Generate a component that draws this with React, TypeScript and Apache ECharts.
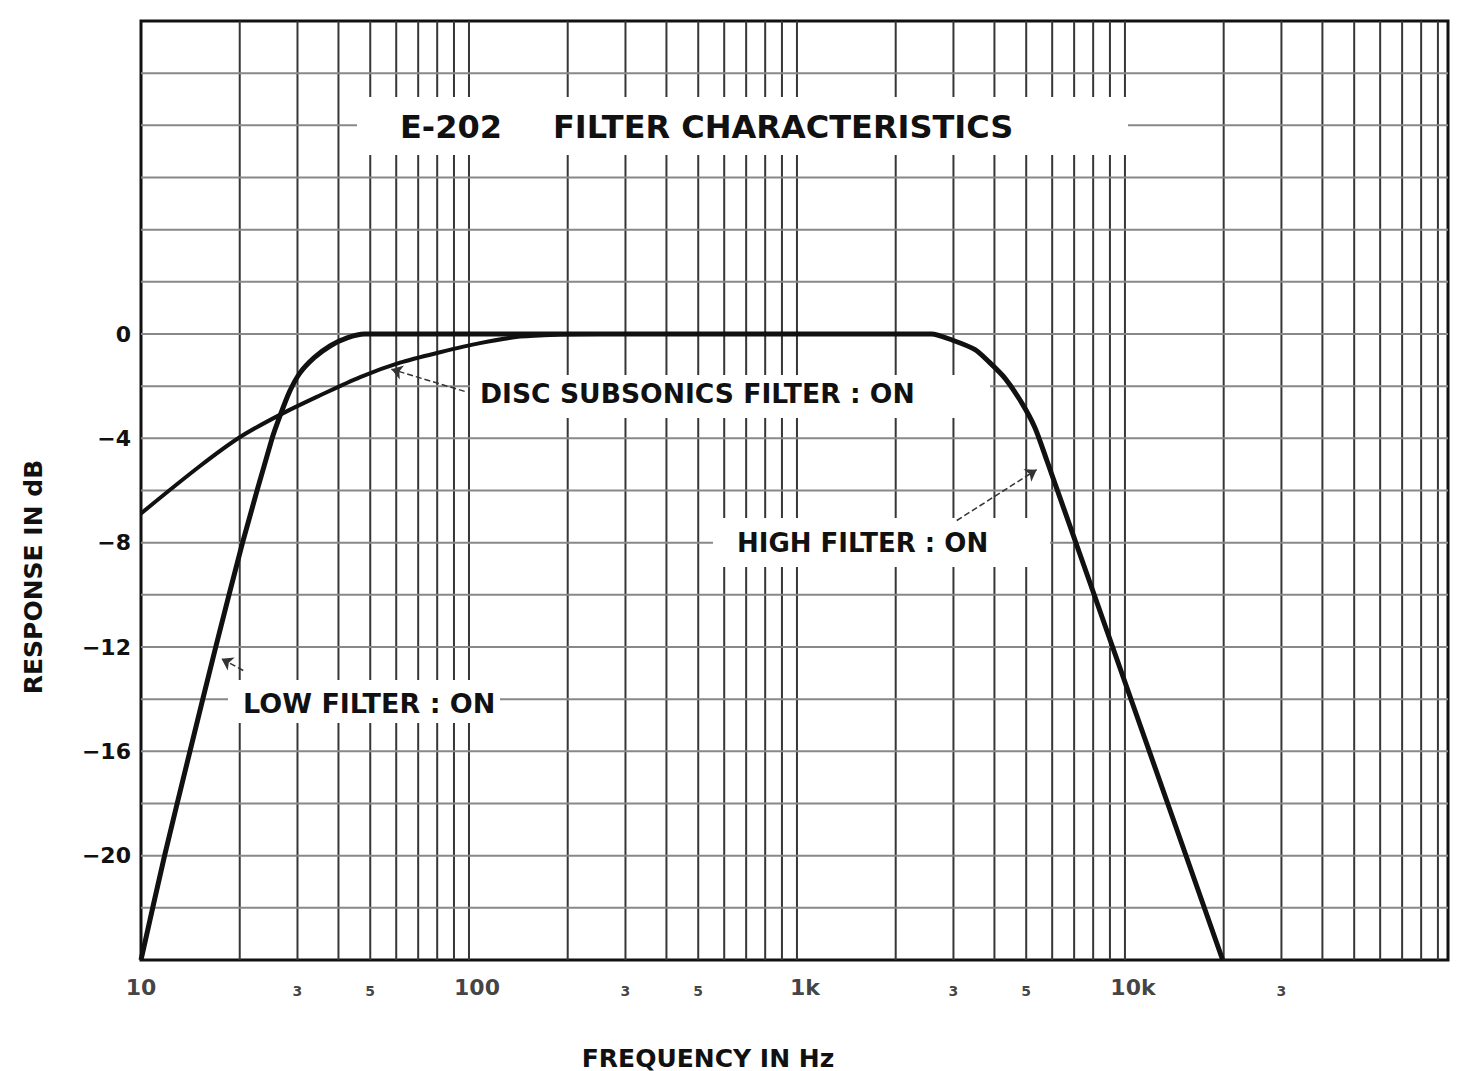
import { useEffect, useRef } from "react";
import * as echarts from "echarts";

// ---- data ----
const lowFilterFreq = [10, 11.8, 14.1, 16.9, 20.4, 25.1, 26.6, 28.4, 30.5, 33.8, 37.8, 42.5, 48, 100, 1000];
const lowFilterDb = [-24, -20, -16, -12, -8, -4, -3.1, -2.2, -1.5, -0.9, -0.45, -0.15, 0, 0, 0];

const discFreq = [10, 15, 20, 26.5, 35.2, 46.6, 61.6, 81.6, 108, 143, 189, 250, 1000];
const discDb = [-6.88, -5.1, -3.96, -3.1, -2.35, -1.65, -1.1, -0.7, -0.35, -0.1, -0.02, 0, 0];

const highFreq = [1000, 2570, 2970, 3490, 3850, 4310, 4850, 5320, 5780, 9170, 13500, 19860];
const highDb = [0, 0, -0.23, -0.6, -1.07, -1.7, -2.65, -3.6, -4.85, -12, -18, -24];

// leader lines: [from, to] in [Hz, dB]
const discLeader = [[97, -2.2], [58, -1.35]];
const highLeader = [[3070, -7.15], [5380, -5.2]];
const lowLeader = [[20.5, -12.9], [17.6, -12.45]];

// grid lines
const xGridFreq = [
  20, 30, 40, 50, 60, 70, 80, 90,
  100, 200, 300, 400, 500, 600, 700, 800, 900,
  1000, 2000, 3000, 4000, 5000, 6000, 7000, 8000, 9000,
  10000, 20000, 30000, 40000, 50000, 60000, 70000, 80000, 90000,
];
const yGridDb = [-22, -20, -18, -16, -14, -12, -10, -8, -6, -4, -2, 0, 2, 4, 6, 8, 10];

// tick labels
const xTickValues = [10, 30, 50, 100, 300, 500, 1000, 3000, 5000, 10000, 30000];
const xTickLabels = ["10", "3", "5", "100", "3", "5", "1k", "3", "5", "10k", "3"];
const yTickValues = [0, -4, -8, -12, -16, -20];
const yTickLabels = ["0", "\u22124", "\u22128", "\u221212", "\u221216", "\u221220"];

const FONT = '"DejaVu Sans", "Liberation Sans", sans-serif';
const INK = "#111";

export default function App() {
  const ref = useRef<HTMLDivElement>(null);

  useEffect(() => {
    if (!ref.current) return;
    const chart = echarts.init(ref.current, undefined, { renderer: "svg" });

    const tickData = xTickValues.map((v, i) => {
      const lab = xTickLabels[i];
      const major = lab.length >= 2 && lab !== "10" ? 2 : lab.length >= 2 ? 1 : 0;
      return {
        value: [v, -24],
        label: {
          show: true,
          formatter: lab,
          position: "bottom",
          distance: major ? 16 : 24,
          offset: major === 2 ? [8, 0] : [0, 0],
          fontSize: major ? 22 : 14,
          fontWeight: "bold",
          fontFamily: FONT,
          color: INK,
        },
      };
    });

    const leader = (pts: number[][]) => ({
      silent: true,
      symbol: ["none", "arrow"],
      symbolSize: 11,
      label: { show: false },
      lineStyle: { color: "#333", width: 1.5, type: "dashed" },
      data: [[{ coord: pts[0] }, { coord: pts[1] }]],
    });

    const curveStyle = { color: INK, width: 5 };
    const txt = (text: string, x: number, y: number, size: number, align = "left", rotation = 0) => ({
      type: "text",
      z: 10,
      x,
      y,
      rotation,
      silent: true,
      style: { text, fontSize: size, fontWeight: "bold", fontFamily: FONT, fill: INK, align, verticalAlign: "middle" },
    });
    const gap = (x: number, y: number, w: number, h: number) => ({
      type: "rect",
      z: 2,
      silent: true,
      shape: { x, y, width: w, height: h },
      style: { fill: "#fff" },
    });

    const option: any = {
      animation: false,
      backgroundColor: "#fff",
      grid: {
        left: 141,
        right: 25,
        top: 21,
        bottom: 111,
        show: true,
        borderColor: INK,
        borderWidth: 3,
        backgroundColor: "transparent",
      },
      xAxis: {
        type: "log",
        logBase: 10,
        min: 10,
        max: 96600,
        axisLabel: { show: false },
        axisLine: { show: false },
        axisTick: { show: false },
        splitLine: { show: false },
      },
      yAxis: {
        type: "value",
        min: -24,
        max: 12,
        interval: 4,
        axisLine: { show: false },
        axisTick: { show: false },
        splitLine: { show: false },
        axisLabel: {
          margin: 10,
          fontSize: 22,
          fontWeight: "bold",
          fontFamily: FONT,
          color: INK,
          formatter: (v: number) => {
            const i = yTickValues.indexOf(v);
            return i >= 0 ? yTickLabels[i] : "";
          },
        },
      },
      graphic: [
        // white gaps in the grid paper behind the printed texts
        gap(357, 97, 771, 58),
        gap(470, 375, 520, 43),
        gap(713, 518, 337, 49),
        gap(228, 680, 272, 43),
        txt("E-202", 400, 127, 32),
        txt("FILTER CHARACTERISTICS", 553, 127, 32),
        txt("DISC SUBSONICS FILTER : ON", 480, 393, 26.6),
        txt("HIGH FILTER : ON", 737, 543, 26),
        txt("LOW FILTER : ON", 243, 703, 27),
        txt("FREQUENCY IN Hz", 708, 1058, 25, "center"),
        txt("RESPONSE IN dB", 33, 577, 25, "center", Math.PI / 2),
      ],
      series: [
        {
          name: "vgrid",
          type: "custom",
          z: 1,
          silent: true,
          clip: false,
          encode: { x: 0, y: 1 },
          data: xGridFreq.map((f) => [f, 0]),
          renderItem: (params: any, api: any) => {
            const cs = params.coordSys;
            const x = api.coord([api.value(0), 0])[0];
            return {
              type: "line",
              shape: { x1: x, y1: cs.y, x2: x, y2: cs.y + cs.height },
              style: { stroke: "#363636", lineWidth: 2 },
            };
          },
        },
        {
          name: "hgrid",
          type: "custom",
          z: 1,
          silent: true,
          clip: false,
          encode: { x: 0, y: 1 },
          data: yGridDb.map((v) => [10, v]),
          renderItem: (params: any, api: any) => {
            const cs = params.coordSys;
            const y = api.coord([10, api.value(1)])[1];
            return {
              type: "line",
              shape: { x1: cs.x, y1: y, x2: cs.x + cs.width, y2: y },
              style: { stroke: "#888", lineWidth: 2 },
            };
          },
        },
        {
          name: "LOW FILTER : ON",
          type: "line",
          z: 3,
          showSymbol: false,
          smooth: 0.25,
          lineStyle: curveStyle,
          data: lowFilterFreq.map((f, i) => [f, lowFilterDb[i]]),
          markLine: leader(lowLeader),
        },
        {
          name: "DISC SUBSONICS FILTER : ON",
          type: "line",
          z: 3,
          showSymbol: false,
          smooth: 0.3,
          lineStyle: { color: INK, width: 4 },
          data: discFreq.map((f, i) => [f, discDb[i]]),
          markLine: leader(discLeader),
        },
        {
          name: "HIGH FILTER : ON",
          type: "line",
          z: 3,
          showSymbol: false,
          smooth: 0.25,
          lineStyle: curveStyle,
          data: highFreq.map((f, i) => [f, highDb[i]]),
          markLine: leader(highLeader),
        },
        {
          name: "xticks",
          type: "scatter",
          z: 4,
          silent: true,
          clip: false,
          symbolSize: 0,
          data: tickData,
        },
      ],
    };

    chart.setOption(option);
    return () => chart.dispose();
  }, []);

  return (
    <div
      ref={ref}
      style={{ position: "fixed", left: 0, top: 0, width: "1473px", height: "1071px", background: "#fff" }}
    />
  );
}
